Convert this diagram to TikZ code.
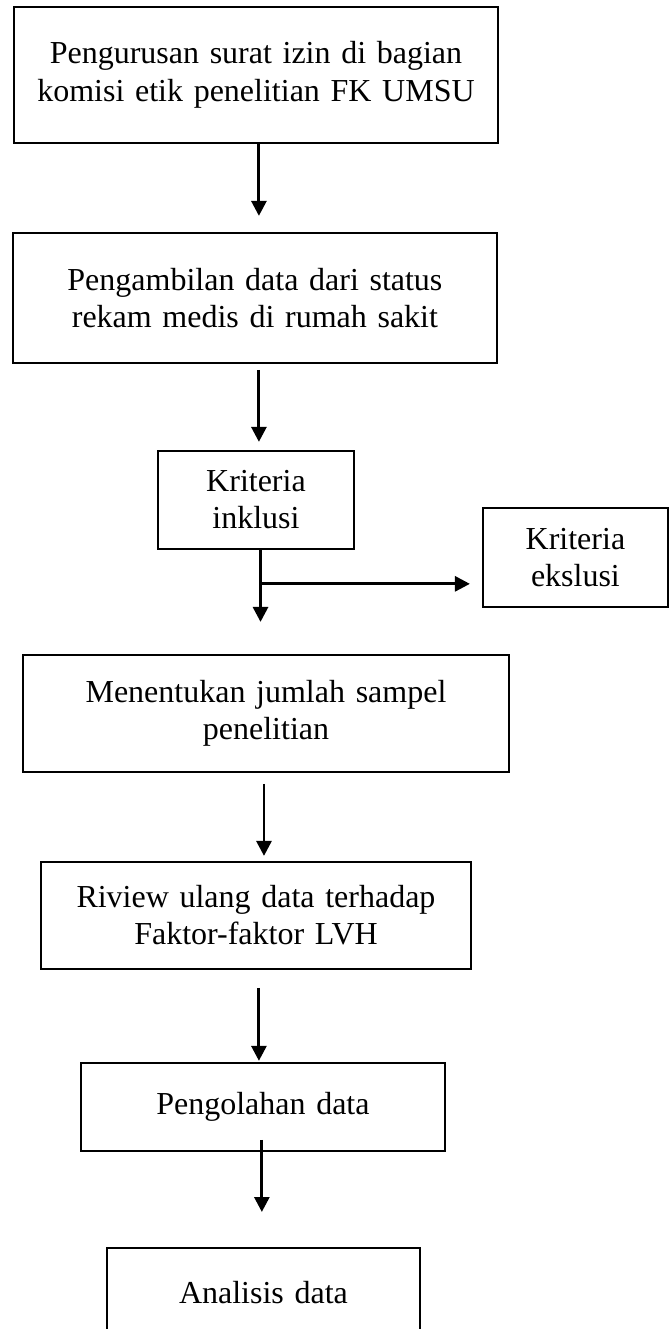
\documentclass[tikz,border=0pt]{standalone}
\usepackage{fontspec}
\setmainfont{Liberation Serif}
\usetikzlibrary{arrows.meta, positioning}
\tikzstyle{arrow} = [line width=1.1pt,-{Triangle[length=5.6pt,width=5.6pt]}]
\tikzstyle{process} = [rectangle, draw=black, line width=0.75pt, inner sep=0pt, text centered, font=\fontsize{12}{14}\selectfont]
\tikzstyle{criteria} = [process, minimum width=73.5pt, minimum height=37pt, text width=65pt]

\begin{document}
\begin{tikzpicture}[node distance=80pt]
\useasboundingbox (0,0) rectangle (250.9pt,-498.4pt);
% Placement of nodes
\node (permit) [process, minimum width=181.5pt, minimum height=51pt, text width=170pt] at (96pt,-28.1pt) {Pengurusan surat izin di bagian\\ komisi etik penelitian FK UMSU};
\node (dataTake) [process, below of=permit, node distance=83.6pt, xshift=-0.4pt, minimum width=181.5pt, minimum height=48.75pt, text width=170pt] {Pengambilan data dari status\\ rekam medis di rumah sakit};
\node (inclusion) [criteria, below of=dataTake, node distance=75.75pt, xshift=0.4pt, minimum height=36.75pt] {Kriteria\\ inklusi};
\node (exclusion) [criteria, right of=inclusion, node distance=119.8pt, yshift=-21.6pt, minimum width=69.4pt] {Kriteria\\ ekslusi};
\node (sampleSize) [process, below of=inclusion, node distance=80.1pt, xshift=3.75pt, minimum width=181.9pt, minimum height=43.9pt, text width=170pt] {Menentukan jumlah sampel\\ penelitian};
\node (review) [process, below of=sampleSize, node distance=75.75pt, xshift=-3.75pt, minimum width=161.6pt, minimum height=40.1pt, text width=150pt] {Riview ulang data terhadap\\ Faktor-faktor LVH};
\node (processing) [process, below of=review, node distance=71.8pt, xshift=2.6pt, minimum width=136.5pt, minimum height=33pt, text width=125pt] {Pengolahan data};
\node (analysis) [process, below of=processing, node distance=69.75pt, xshift=0.2pt, minimum width=117.4pt, minimum height=33.75pt, text width=105pt] {Analisis data};

% split point below the inclusion box
\coordinate (split) at ([xshift=1.7pt, yshift=-12.75pt]inclusion.south);

% Placement of edges
\draw [arrow, shorten >=6pt] ([xshift=1.1pt]permit.south) -- ([xshift=1.1pt]permit.south |- dataTake.north);
\draw [arrow, shorten <=2.25pt, shorten >=3pt] ([xshift=1.5pt]dataTake.south) -- ([xshift=1.5pt]dataTake.south |- inclusion.north);
\draw [arrow, shorten >=12pt] ([xshift=1.7pt]inclusion.south) -- ([xshift=1.7pt]inclusion.south |- sampleSize.north);
\draw [arrow, shorten >=4.5pt] (split) -- (split -| exclusion.west);
\draw [arrow, shorten <=4.1pt, shorten >=1.9pt] ([xshift=-0.75pt]sampleSize.south) -- ([xshift=-0.75pt]sampleSize.south |- review.north);
\draw [arrow, shorten <=6.75pt, shorten >=0.4pt] ([xshift=1.1pt]review.south) -- ([xshift=1.1pt]review.south |- processing.north);
\draw [arrow, shorten <=-4.5pt, shorten >=13.1pt] ([xshift=-0.4pt]processing.south) -- ([xshift=-0.4pt]processing.south |- analysis.north);

\end{tikzpicture}
\end{document}
